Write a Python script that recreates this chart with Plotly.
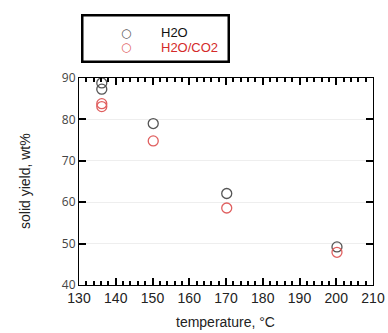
import plotly.graph_objects as go

temp_h2o = [136.2, 136.2, 150.2, 170.2, 200.2]
yield_h2o = [88.8, 87.3, 79.0, 62.1, 49.2]
temp_co2 = [136.2, 136.2, 150.2, 170.2, 200.2]
yield_co2 = [83.8, 83.1, 74.8, 58.6, 47.9]

legend_names = ["H2O", "H2O/CO2"]

GRAY = "#555555"
RED = "#e06060"
RED_TXT = "#d42a2a"
FONT = "Liberation Sans, Arial, sans-serif"

fig = go.Figure()
fig.add_trace(go.Scatter(x=temp_h2o, y=yield_h2o, mode="markers", name=legend_names[0], showlegend=False,
                         marker=dict(symbol="circle-open", size=10, color=GRAY, line=dict(width=1.3, color=GRAY))))
fig.add_trace(go.Scatter(x=temp_co2, y=yield_co2, mode="markers", name=legend_names[1], showlegend=False,
                         marker=dict(symbol="circle-open", size=10, color=RED, line=dict(width=1.3, color=RED))))

W, H = 388, 333
L, R, T, B = 79, 15, 78, 48

fig.update_layout(width=W, height=H, template="none", showlegend=False,
                  margin=dict(l=L, r=R, t=T, b=B))

fig.update_xaxes(ticks="inside", ticklen=7, tickwidth=2, tickcolor="black",
                 showline=True, mirror="ticks", linecolor="black",
                 showgrid=False, zeroline=False,
                 range=[130, 210], dtick=10,
                 tickfont=dict(family=FONT, size=14, color="#222222"),
                 minor=dict(ticks="inside", ticklen=4, tickcolor="black", dtick=2))
fig.update_yaxes(ticks="inside", ticklen=7, tickwidth=2, tickcolor="black",
                 showline=True, mirror="ticks", linecolor="black",
                 range=[40, 90])

pw, ph = W - L - R, H - T - B
def px_x(p):
    return (p - L) / pw
def px_y(p):
    return (H - B - p) / ph

fig.add_annotation(text="temperature, °C", xref="paper", yref="paper", x=px_x(225), y=px_y(322),
                   xanchor="center", yanchor="middle", showarrow=False,
                   font=dict(family=FONT, size=14, color="#222222"))
fig.add_annotation(text="solid yield, wt%", xref="paper", yref="paper", x=px_x(25), y=px_y(181),
                   xanchor="center", yanchor="middle", showarrow=False, textangle=-90,
                   font=dict(family=FONT, size=14, color="#222222"))

fig.add_annotation(text=" ", xref="paper", yref="paper", x=px_x(155.5), y=px_y(38.5),
                   xanchor="center", yanchor="middle", showarrow=False,
                   width=144, height=44, borderpad=0, borderwidth=2.5, bordercolor="black",
                   font=dict(family=FONT, size=10))

legend_colors = [GRAY, RED]
legend_txt_colors = ["#111111", RED_TXT]
rows_y = [33, 47]
for name, mc, tc, yy in zip(legend_names, legend_colors, legend_txt_colors, rows_y):
    fig.add_annotation(text="○", xref="paper", yref="paper", x=px_x(126), y=px_y(yy),
                       xanchor="center", yanchor="middle", showarrow=False,
                       font=dict(family="DejaVu Sans", size=12, color=mc))
    fig.add_annotation(text=name, xref="paper", yref="paper", x=px_x(159), y=px_y(yy),
                       xanchor="left", yanchor="middle", showarrow=False,
                       font=dict(family=FONT, size=13, color=tc))

fig.write_html("out.html")
